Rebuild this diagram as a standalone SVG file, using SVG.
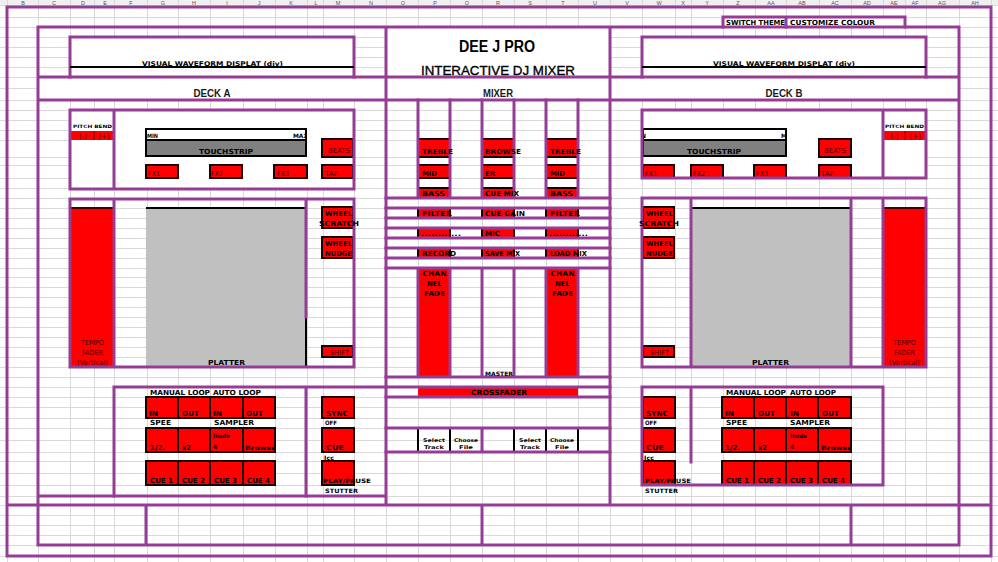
<svg xmlns="http://www.w3.org/2000/svg" width="998" height="562" viewBox="0 0 998 562">
<style>
.grid{fill:none;stroke:#d9d9d9;stroke-width:1}
.pl{fill:none;stroke:#963c96;stroke-width:3;stroke-linecap:square}
.rb{fill:#ff0000;stroke:#1a0000;stroke-width:2}
.rd{fill:#ff0000}
.bk{fill:none;stroke:#000;stroke-width:2}
.wh{fill:#fff}
.t{font-family:"DejaVu Sans",sans-serif;font-weight:bold;font-size:7px;fill:#000}
.m{font-family:"DejaVu Sans",sans-serif;font-size:7px;fill:#4a0000}
.s{font-size:5px}
.h{font-family:"Liberation Sans",Arial,sans-serif;font-weight:bold;font-size:11.5px;fill:#1a1a1a}
.col{font-family:"Liberation Sans",Arial,sans-serif;font-size:5.5px;fill:#555;text-anchor:middle}
</style>
<defs>
<clipPath id="cSw"><rect x="724" y="18" width="61" height="8"/></clipPath>
<clipPath id="cTa"><rect x="147" y="130" width="158" height="10"/></clipPath>
<clipPath id="cTb"><rect x="644" y="130" width="141" height="10"/></clipPath>
<clipPath id="cBa"><rect x="243" y="429" width="32" height="22"/></clipPath>
<clipPath id="cBb"><rect x="819" y="429" width="32" height="22"/></clipPath>
</defs>
<rect width="998" height="562" fill="#fff"/>
<g id="header">
<rect x="0" y="0" width="998" height="5" fill="#f0f0f0"/>
<g class="col">
<text x="23" y="5">B</text><text x="54" y="5">C</text><text x="83" y="5">D</text><text x="105" y="5">E</text><text x="131" y="5">F</text><text x="163" y="5">G</text><text x="194" y="5">H</text><text x="227" y="5">I</text><text x="259" y="5">J</text><text x="291" y="5">K</text><text x="316" y="5">L</text><text x="338" y="5">M</text><text x="371" y="5">N</text><text x="403" y="5">O</text><text x="435" y="5">P</text><text x="467" y="5">Q</text><text x="498" y="5">R</text><text x="530" y="5">S</text><text x="563" y="5">T</text><text x="595" y="5">U</text><text x="627" y="5">V</text><text x="659" y="5">W</text><text x="683" y="5">X</text><text x="707" y="5">Y</text><text x="738" y="5">Z</text><text x="771" y="5">AA</text><text x="802" y="5">AB</text><text x="835" y="5">AC</text><text x="867" y="5">AD</text><text x="894" y="5">AE</text><text x="915" y="5">AF</text><text x="942" y="5">AG</text><text x="975" y="5">AH</text>
</g>
</g>
<path class="grid" d="M7.5 0V562M38.5 0V562M70.5 0V562M94.5 0V562M114.5 0V562M147.5 0V562M178.5 0V562M210.5 0V562M243.5 0V562M275.5 0V562M307.5 0V562M323.5 0V562M354.5 0V562M386.5 0V562M418.5 0V562M450.5 0V562M482.5 0V562M514.5 0V562M546.5 0V562M578.5 0V562M610.5 0V562M642.5 0V562M675.5 0V562M691.5 0V562M723.5 0V562M755.5 0V562M786.5 0V562M819.5 0V562M851.5 0V562M883.5 0V562M905.5 0V562M926.5 0V562M959.5 0V562M991.5 0V562M0 5.5H998M0 17.5H998M0 27.5H998M0 37.5H998M0 47.5H998M0 57.5H998M0 67.5H998M0 77.5H998M0 88.5H998M0 100.5H998M0 110.5H998M0 120.5H998M0 130.5H998M0 140.5H998M0 157.5H998M0 165.5H998M0 178.5H998M0 188.5H998M0 198.5H998M0 208.5H998M0 218.5H998M0 228.5H998M0 238.5H998M0 248.5H998M0 258.5H998M0 268.5H998M0 277.5H998M0 287.5H998M0 297.5H998M0 307.5H998M0 317.5H998M0 327.5H998M0 337.5H998M0 347.5H998M0 357.5H998M0 367.5H998M0 377.5H998M0 387.5H998M0 397.5H998M0 407.5H998M0 418.5H998M0 428.5H998M0 440.5H998M0 452.5H998M0 461.5H998M0 473.5H998M0 485.5H998M0 496.5H998M0 505.5H998M0 515.5H998M0 525.5H998M0 535.5H998M0 545.5H998M0 556.5H998"/>
<g id="white-areas">
<rect class="wh" x="386" y="27" width="224" height="50"/>
<rect class="wh" x="70" y="37" width="284" height="40"/>
<rect class="wh" x="642" y="37" width="284" height="40"/>
<rect class="wh" x="38" y="77" width="921" height="23"/>
<rect class="wh" x="70" y="110" width="284" height="79"/>
<rect class="wh" x="642" y="110" width="284" height="68"/>
<rect class="wh" x="723" y="17" width="182" height="10"/>
</g>
<g id="deck-a">
<rect class="rd" x="71" y="131" width="23" height="9"/>
<rect class="rd" x="94" y="131" width="19" height="9"/>
<line x1="94" y1="131" x2="94" y2="140" stroke="#600" stroke-width="1"/>
<rect x="146" y="129" width="160" height="11" fill="#fff"/>
<rect x="146" y="140" width="160" height="16" fill="#808080"/>
<rect class="bk" x="146" y="129" width="160" height="27"/>
<line x1="146" y1="140" x2="306" y2="140" stroke="#000" stroke-width="2"/>
<rect class="rb" x="146" y="165" width="32" height="13"/>
<rect class="rb" x="210" y="165" width="32" height="13"/>
<rect class="rb" x="274" y="165" width="33" height="13"/>
<rect class="rb" x="322" y="165" width="31" height="13"/>
<rect class="rb" x="322" y="139" width="31" height="18"/>
<rect class="rd" x="71" y="208" width="42" height="158"/>
<line x1="71" y1="208" x2="113" y2="208" stroke="#400" stroke-width="2"/>
<rect x="146" y="208" width="160" height="158" fill="#c0c0c0"/>
<line x1="146" y1="208" x2="306" y2="208" stroke="#000" stroke-width="2"/>
<line x1="306" y1="317" x2="306" y2="366" stroke="#000" stroke-width="2"/>
<rect class="rb" x="322" y="207" width="31" height="21"/>
<rect class="rb" x="322" y="237" width="31" height="21"/>
<rect class="rb" x="322" y="346" width="31" height="11"/>
<rect class="rb" x="146" y="397" width="32" height="21"/><rect class="rb" x="178" y="397" width="32" height="21"/><rect class="rb" x="210" y="397" width="33" height="21"/><rect class="rb" x="243" y="397" width="32" height="21"/>
<rect class="rb" x="146" y="428" width="32" height="24"/><rect class="rb" x="178" y="428" width="32" height="24"/><rect class="rb" x="210" y="428" width="33" height="24"/><rect class="rb" x="243" y="428" width="32" height="24"/>
<rect class="rb" x="146" y="461" width="32" height="24"/><rect class="rb" x="178" y="461" width="32" height="24"/><rect class="rb" x="210" y="461" width="33" height="24"/><rect class="rb" x="243" y="461" width="32" height="24"/>
<rect class="rb" x="322" y="397" width="32" height="21"/>
<rect class="rb" x="322" y="428" width="32" height="24"/>
<rect class="rb" x="322" y="461" width="32" height="24"/>
<line x1="38" y1="497" x2="38" y2="504" stroke="#000" stroke-width="2"/>
<line x1="386" y1="497" x2="386" y2="504" stroke="#000" stroke-width="2"/>
</g>
<g id="mixer">
<rect class="rb" x="418" y="139" width="32" height="18"/><rect class="rb" x="418" y="165" width="32" height="13"/><rect class="rb" x="418" y="188" width="32" height="10"/>
<rect class="rb" x="482" y="139" width="32" height="18"/><rect class="rb" x="482" y="165" width="32" height="13"/><rect class="rb" x="482" y="188" width="32" height="10"/>
<rect class="rb" x="546" y="139" width="32" height="18"/><rect class="rb" x="546" y="165" width="32" height="13"/><rect class="rb" x="546" y="188" width="32" height="10"/>
<rect class="rb" x="418" y="208" width="32" height="10"/><rect class="rb" x="482" y="208" width="32" height="10"/><rect class="rb" x="546" y="208" width="32" height="10"/>
<rect class="rb" x="418" y="228" width="32" height="10"/><rect class="rb" x="482" y="228" width="32" height="10"/><rect class="rb" x="546" y="228" width="32" height="10"/>
<rect class="rb" x="418" y="248" width="32" height="10"/><rect class="rb" x="482" y="248" width="32" height="10"/><rect class="rb" x="546" y="248" width="32" height="10"/>
<rect class="rd" x="418" y="268" width="32" height="109"/>
<rect class="rd" x="546" y="268" width="32" height="109"/>
<rect class="rd" x="418" y="387" width="160" height="10"/>
<path d="M418 428V452M450 428V452M514 428V452M546 428V452M578 428V452" stroke="#000" stroke-width="2" fill="none"/>
</g>
<g id="deck-b">
<rect class="rd" x="884" y="131" width="21" height="9"/>
<rect class="rd" x="905" y="131" width="21" height="9"/>
<line x1="905" y1="131" x2="905" y2="140" stroke="#600" stroke-width="1"/>
<rect x="643" y="129" width="143" height="11" fill="#fff"/>
<rect x="643" y="140" width="143" height="16" fill="#808080"/>
<rect class="bk" x="643" y="129" width="143" height="27"/>
<line x1="643" y1="140" x2="786" y2="140" stroke="#000" stroke-width="2"/>
<rect class="rb" x="643" y="165" width="31" height="13"/>
<rect class="rb" x="691" y="165" width="32" height="13"/>
<rect class="rb" x="754" y="165" width="32" height="13"/>
<rect class="rb" x="819" y="165" width="32" height="13"/>
<rect class="rb" x="819" y="139" width="32" height="18"/>
<rect class="rd" x="884" y="208" width="42" height="158"/>
<line x1="884" y1="208" x2="926" y2="208" stroke="#400" stroke-width="2"/>
<rect x="692" y="208" width="158" height="158" fill="#c0c0c0"/>
<line x1="692" y1="208" x2="850" y2="208" stroke="#000" stroke-width="2"/>
<rect class="rb" x="643" y="207" width="31" height="21"/>
<rect class="rb" x="643" y="237" width="31" height="21"/>
<rect class="rb" x="643" y="346" width="31" height="11"/>
<rect class="rb" x="722" y="397" width="32" height="21"/><rect class="rb" x="754" y="397" width="32" height="21"/><rect class="rb" x="786" y="397" width="32" height="21"/><rect class="rb" x="818" y="397" width="33" height="21"/>
<rect class="rb" x="722" y="428" width="32" height="24"/><rect class="rb" x="754" y="428" width="32" height="24"/><rect class="rb" x="786" y="428" width="32" height="24"/><rect class="rb" x="818" y="428" width="33" height="24"/>
<rect class="rb" x="722" y="461" width="32" height="24"/><rect class="rb" x="754" y="461" width="32" height="24"/><rect class="rb" x="786" y="461" width="32" height="24"/><rect class="rb" x="818" y="461" width="33" height="24"/>
<rect class="rb" x="643" y="397" width="32" height="21"/>
<rect class="rb" x="643" y="428" width="32" height="24"/>
<rect class="rb" x="643" y="461" width="32" height="24"/>
</g>
<g id="frame">
<path class="pl" d="M7 7H991V556H7ZM38 27H959V545H38ZM386 27V505M610 27V505M38 77H959M38 100H959M7 505H991M146 505V545M482 505V545M851 505V545M38 496H386"/>
<path class="pl" d="M70 37H354V77M70 37V77M642 37H926V77M642 37V77M723 17H905V27M723 17V27M786 17V27"/>
<path class="pl" d="M70 110H354V189H70ZM114 110V189M70 199H354V367H70ZM114 199V367M306 199V317M114 387H386M114 387V496M306 387V496"/>
<path class="pl" d="M418 100V198M450 100V198M482 100V198M514 100V198M546 100V198M578 100V198M386 198H610M386 208H610M386 218H610M386 228H610M386 238H610M386 248H610M386 258H610M386 268H610M418 268V377M450 268V377M482 268V377M514 268V377M546 268V377M578 268V377M386 377H610M386 387H610M386 397H610M386 428H610M386 452H610M482 428V452"/>
<path class="pl" d="M642 110H926V178H642ZM883 110V178M642 198H926V367H642ZM691 198V367M851 198V367M883 198V367M642 387H883V485H642ZM691 387V462"/>
<line x1="70" y1="67" x2="354" y2="67" stroke="#000" stroke-width="2"/>
<line x1="642" y1="67" x2="926" y2="67" stroke="#000" stroke-width="2"/>
</g>
<g id="labels-top">
<text class="t" x="726" y="25" textLength="59" lengthAdjust="spacingAndGlyphs" clip-path="url(#cSw)">SWITCH THEME</text>
<text class="t" x="790" y="25" textLength="85" lengthAdjust="spacingAndGlyphs">CUSTOMIZE COLOUR</text>
<text x="497" y="52" text-anchor="middle" textLength="76" lengthAdjust="spacingAndGlyphs" style="font-family:'Liberation Sans',Arial,sans-serif;font-weight:bold;font-size:16px;fill:#000">DEE J PRO</text>
<text x="498" y="75" text-anchor="middle" textLength="154" lengthAdjust="spacingAndGlyphs" style="font-family:'Liberation Sans',Arial,sans-serif;font-size:13px;fill:#000;stroke:#000;stroke-width:0.35">INTERACTIVE DJ MIXER</text>
<text class="h" x="212" y="96.5" text-anchor="middle" textLength="37" lengthAdjust="spacingAndGlyphs">DECK A</text>
<text class="h" x="498" y="96.5" text-anchor="middle" textLength="30" lengthAdjust="spacingAndGlyphs">MIXER</text>
<text class="h" x="784" y="96.5" text-anchor="middle" textLength="37" lengthAdjust="spacingAndGlyphs">DECK B</text>
<text class="t" x="142" y="65.5" textLength="141" lengthAdjust="spacingAndGlyphs" style="font-size:6.5px">VISUAL WAVEFORM DISPLAT (div)</text>
<text class="t" x="713" y="65.5" textLength="142" lengthAdjust="spacingAndGlyphs" style="font-size:6.5px">VISUAL WAVEFORM DISPLAT (div)</text>
</g>
<g id="labels-deck-a">
<text class="t" x="73" y="128" textLength="39" lengthAdjust="spacingAndGlyphs" style="font-size:4.5px">PITCH BEND</text>
<text class="m" x="83" y="138.5" text-anchor="middle">(-)</text>
<text class="m" x="104" y="138.5" text-anchor="middle">(+)</text>
<text class="t" x="147" y="137.5" textLength="11" lengthAdjust="spacingAndGlyphs" style="font-size:6px" clip-path="url(#cTa)">MIN</text>
<text class="t" x="293" y="137.5" textLength="15" lengthAdjust="spacingAndGlyphs" style="font-size:6px" clip-path="url(#cTa)">MAX</text>
<text class="t" x="199" y="154" textLength="54" lengthAdjust="spacingAndGlyphs">TOUCHSTRIP</text>
<text class="m" x="148" y="176" textLength="12" lengthAdjust="spacingAndGlyphs">FX1</text>
<text class="m" x="211" y="176" textLength="12" lengthAdjust="spacingAndGlyphs">FX2</text>
<text class="m" x="277" y="176" textLength="12" lengthAdjust="spacingAndGlyphs">FX3</text>
<text class="m" x="325" y="176" textLength="13" lengthAdjust="spacingAndGlyphs">TAP</text>
<text class="m" x="328" y="153" textLength="22" lengthAdjust="spacingAndGlyphs">BEATS</text>
<text class="t" x="325" y="215.5" textLength="27" lengthAdjust="spacingAndGlyphs">WHEEL</text>
<text class="t" x="319" y="225.5" textLength="40" lengthAdjust="spacingAndGlyphs">SCRATCH</text>
<text class="t" x="325" y="245.5" textLength="27" lengthAdjust="spacingAndGlyphs">WHEEL</text>
<text class="t" x="325" y="255.5" textLength="27" lengthAdjust="spacingAndGlyphs">NUDGE</text>
<text class="m" x="330" y="354.5" textLength="19" lengthAdjust="spacingAndGlyphs">SHIFT</text>
<text class="m" x="92.5" y="344.5" text-anchor="middle" textLength="23" lengthAdjust="spacingAndGlyphs">TEMPO</text>
<text class="m" x="92.5" y="354.5" text-anchor="middle" textLength="21" lengthAdjust="spacingAndGlyphs">FADER</text>
<text class="m" x="92.5" y="364.5" text-anchor="middle" textLength="31" lengthAdjust="spacingAndGlyphs">(Vertical)</text>
<text class="t" x="208" y="364.5" textLength="37" lengthAdjust="spacingAndGlyphs">PLATTER</text>
<text class="t" x="150" y="394.5" textLength="60" lengthAdjust="spacingAndGlyphs">MANUAL LOOP</text>
<text class="t" x="213" y="394.5" textLength="48" lengthAdjust="spacingAndGlyphs">AUTO LOOP</text>
<text class="t" x="149" y="415.5" textLength="9" lengthAdjust="spacingAndGlyphs">IN</text>
<text class="t" x="182" y="415.5" textLength="17" lengthAdjust="spacingAndGlyphs">OUT</text>
<text class="t" x="213" y="415.5" textLength="9" lengthAdjust="spacingAndGlyphs">IN</text>
<text class="t" x="246" y="415.5" textLength="17" lengthAdjust="spacingAndGlyphs">OUT</text>
<text class="t" x="150" y="424.5" textLength="21" lengthAdjust="spacingAndGlyphs">SPEE</text>
<text class="t" x="214" y="424.5" textLength="40" lengthAdjust="spacingAndGlyphs">SAMPLER</text>
<text class="t" x="150" y="449.5" textLength="15" lengthAdjust="spacingAndGlyphs">1/2.</text>
<text class="t" x="182" y="449.5" textLength="9" lengthAdjust="spacingAndGlyphs">x2</text>
<text class="t" x="213" y="438" textLength="17" lengthAdjust="spacingAndGlyphs" style="font-size:6px">Inode</text>
<text class="t" x="213" y="449" style="font-size:6px">4</text>
<text class="t" x="245" y="449.5" textLength="31" lengthAdjust="spacingAndGlyphs" style="font-size:6px" clip-path="url(#cBa)">Browse</text>
<text class="t" x="150" y="483" textLength="23" lengthAdjust="spacingAndGlyphs">CUE 1</text>
<text class="t" x="182" y="483" textLength="23" lengthAdjust="spacingAndGlyphs">CUE 2</text>
<text class="t" x="214" y="483" textLength="23" lengthAdjust="spacingAndGlyphs">CUE 3</text>
<text class="t" x="247" y="483" textLength="23" lengthAdjust="spacingAndGlyphs">CUE 4</text>
<text class="t" x="326" y="416" textLength="22" lengthAdjust="spacingAndGlyphs">SYNC</text>
<text class="t" x="325" y="424.5" textLength="12" lengthAdjust="spacingAndGlyphs" style="font-size:6px">OFF</text>
<text class="t" x="326" y="450" textLength="18" lengthAdjust="spacingAndGlyphs">CUE</text>
<text class="t" x="324" y="459.5" textLength="10" lengthAdjust="spacingAndGlyphs" style="font-size:6px">Icc</text>
<text class="t" x="323" y="483" textLength="48" lengthAdjust="spacingAndGlyphs" style="font-size:6px">PLAY/PAUSE</text>
<text class="t" x="325" y="493" textLength="33" lengthAdjust="spacingAndGlyphs" style="font-size:6px">STUTTER</text>
</g>
<g id="labels-mixer">
<text class="t" x="422" y="154" textLength="31" lengthAdjust="spacingAndGlyphs">TREBLE</text>
<text class="t" x="422" y="175.5" textLength="15" lengthAdjust="spacingAndGlyphs">MID</text>
<text class="t" x="422" y="195.5" textLength="23" lengthAdjust="spacingAndGlyphs">BASS</text>
<text class="t" x="485" y="154" textLength="36" lengthAdjust="spacingAndGlyphs">BROWSE</text>
<text class="t" x="485" y="175.5" textLength="10" lengthAdjust="spacingAndGlyphs">ER</text>
<text class="t" x="485" y="195.5" textLength="34" lengthAdjust="spacingAndGlyphs">CUE MIX</text>
<text class="t" x="550" y="154" textLength="31" lengthAdjust="spacingAndGlyphs">TREBLE</text>
<text class="t" x="550" y="175.5" textLength="15" lengthAdjust="spacingAndGlyphs">MID</text>
<text class="t" x="550" y="195.5" textLength="23" lengthAdjust="spacingAndGlyphs">BASS</text>
<text class="t" x="422" y="215.5" textLength="30" lengthAdjust="spacingAndGlyphs">FILTER</text>
<text class="t" x="485" y="215.5" textLength="40" lengthAdjust="spacingAndGlyphs">CUE GAIN</text>
<text class="t" x="550" y="215.5" textLength="30" lengthAdjust="spacingAndGlyphs">FILTER</text>
<text class="t" x="421" y="235.5" textLength="40" lengthAdjust="spacingAndGlyphs">............</text>
<text class="t" x="485" y="235.5" textLength="15" lengthAdjust="spacingAndGlyphs">MIC</text>
<text class="t" x="549" y="235.5" textLength="39" lengthAdjust="spacingAndGlyphs">............</text>
<text class="t" x="422" y="255.5" textLength="34" lengthAdjust="spacingAndGlyphs">RECORD</text>
<text class="t" x="485" y="255.5" textLength="35" lengthAdjust="spacingAndGlyphs">SAVE MIX</text>
<text class="t" x="550" y="255.5" textLength="37" lengthAdjust="spacingAndGlyphs">LOAD MIX</text>
<text class="t" x="434.5" y="275.5" text-anchor="middle" textLength="24" lengthAdjust="spacingAndGlyphs">CHAN</text>
<text class="t" x="434.5" y="285.5" text-anchor="middle" textLength="15" lengthAdjust="spacingAndGlyphs">NEL</text>
<text class="t" x="434.5" y="295.5" text-anchor="middle" textLength="21" lengthAdjust="spacingAndGlyphs">FADE</text>
<text class="t" x="562.5" y="275.5" text-anchor="middle" textLength="24" lengthAdjust="spacingAndGlyphs">CHAN</text>
<text class="t" x="562.5" y="285.5" text-anchor="middle" textLength="15" lengthAdjust="spacingAndGlyphs">NEL</text>
<text class="t" x="562.5" y="295.5" text-anchor="middle" textLength="21" lengthAdjust="spacingAndGlyphs">FADE</text>
<text class="t" x="485" y="375.5" textLength="28" lengthAdjust="spacingAndGlyphs" style="font-size:6px">MASTER</text>
<text class="t" x="471" y="394.5" textLength="56" lengthAdjust="spacingAndGlyphs">CROSSFADER</text>
<text class="t s" x="434" y="441.5" text-anchor="middle" textLength="22" lengthAdjust="spacingAndGlyphs">Select</text>
<text class="t s" x="434" y="448.5" text-anchor="middle" textLength="20" lengthAdjust="spacingAndGlyphs">Track</text>
<text class="t s" x="466" y="441.5" text-anchor="middle" textLength="24" lengthAdjust="spacingAndGlyphs">Choose</text>
<text class="t s" x="466" y="448.5" text-anchor="middle" textLength="14" lengthAdjust="spacingAndGlyphs">File</text>
<text class="t s" x="530" y="441.5" text-anchor="middle" textLength="22" lengthAdjust="spacingAndGlyphs">Select</text>
<text class="t s" x="530" y="448.5" text-anchor="middle" textLength="20" lengthAdjust="spacingAndGlyphs">Track</text>
<text class="t s" x="562" y="441.5" text-anchor="middle" textLength="24" lengthAdjust="spacingAndGlyphs">Choose</text>
<text class="t s" x="562" y="448.5" text-anchor="middle" textLength="14" lengthAdjust="spacingAndGlyphs">File</text>
</g>
<g id="labels-deck-b">
<text class="t" x="885" y="128" textLength="39" lengthAdjust="spacingAndGlyphs" style="font-size:4.5px">PITCH BEND</text>
<text class="m" x="894.5" y="138.5" text-anchor="middle">(-)</text>
<text class="m" x="915.5" y="138.5" text-anchor="middle">(+)</text>
<text class="t" x="632" y="137.5" textLength="14" lengthAdjust="spacingAndGlyphs" style="font-size:6px" clip-path="url(#cTb)">MIN</text>
<text class="t" x="781" y="137.5" textLength="15" lengthAdjust="spacingAndGlyphs" style="font-size:6px" clip-path="url(#cTb)">MAX</text>
<text class="t" x="687" y="154" textLength="54" lengthAdjust="spacingAndGlyphs">TOUCHSTRIP</text>
<text class="m" x="645" y="176" textLength="12" lengthAdjust="spacingAndGlyphs">FX1</text>
<text class="m" x="693" y="176" textLength="12" lengthAdjust="spacingAndGlyphs">FX2</text>
<text class="m" x="756" y="176" textLength="12" lengthAdjust="spacingAndGlyphs">FX3</text>
<text class="m" x="821" y="176" textLength="13" lengthAdjust="spacingAndGlyphs">TAP</text>
<text class="m" x="824" y="153" textLength="22" lengthAdjust="spacingAndGlyphs">BEATS</text>
<text class="t" x="646" y="215.5" textLength="27" lengthAdjust="spacingAndGlyphs">WHEEL</text>
<text class="t" x="639" y="225.5" textLength="40" lengthAdjust="spacingAndGlyphs">SCRATCH</text>
<text class="t" x="646" y="245.5" textLength="27" lengthAdjust="spacingAndGlyphs">WHEEL</text>
<text class="t" x="646" y="255.5" textLength="27" lengthAdjust="spacingAndGlyphs">NUDGE</text>
<text class="m" x="650" y="354.5" textLength="19" lengthAdjust="spacingAndGlyphs">SHIFT</text>
<text class="m" x="904.5" y="344.5" text-anchor="middle" textLength="23" lengthAdjust="spacingAndGlyphs">TEMPO</text>
<text class="m" x="904.5" y="354.5" text-anchor="middle" textLength="21" lengthAdjust="spacingAndGlyphs">FADER</text>
<text class="m" x="904.5" y="364.5" text-anchor="middle" textLength="31" lengthAdjust="spacingAndGlyphs">(Vertical)</text>
<text class="t" x="752" y="364.5" textLength="37" lengthAdjust="spacingAndGlyphs">PLATTER</text>
<text class="t" x="726" y="394.5" textLength="60" lengthAdjust="spacingAndGlyphs">MANUAL LOOP</text>
<text class="t" x="790" y="394.5" textLength="46" lengthAdjust="spacingAndGlyphs">AUTO LOOP</text>
<text class="t" x="725" y="415.5" textLength="9" lengthAdjust="spacingAndGlyphs">IN</text>
<text class="t" x="758" y="415.5" textLength="17" lengthAdjust="spacingAndGlyphs">OUT</text>
<text class="t" x="790" y="415.5" textLength="9" lengthAdjust="spacingAndGlyphs">IN</text>
<text class="t" x="822" y="415.5" textLength="17" lengthAdjust="spacingAndGlyphs">OUT</text>
<text class="t" x="726" y="424.5" textLength="21" lengthAdjust="spacingAndGlyphs">SPEE</text>
<text class="t" x="790" y="424.5" textLength="40" lengthAdjust="spacingAndGlyphs">SAMPLER</text>
<text class="t" x="725" y="449.5" textLength="15" lengthAdjust="spacingAndGlyphs">1/2.</text>
<text class="t" x="758" y="449.5" textLength="9" lengthAdjust="spacingAndGlyphs">x2</text>
<text class="t" x="790" y="438" textLength="17" lengthAdjust="spacingAndGlyphs" style="font-size:6px">Inode</text>
<text class="t" x="790" y="449" style="font-size:6px">4</text>
<text class="t" x="821" y="449.5" textLength="31" lengthAdjust="spacingAndGlyphs" style="font-size:6px" clip-path="url(#cBb)">Browse</text>
<text class="t" x="726" y="483" textLength="23" lengthAdjust="spacingAndGlyphs">CUE 1</text>
<text class="t" x="758" y="483" textLength="23" lengthAdjust="spacingAndGlyphs">CUE 2</text>
<text class="t" x="790" y="483" textLength="23" lengthAdjust="spacingAndGlyphs">CUE 3</text>
<text class="t" x="822" y="483" textLength="23" lengthAdjust="spacingAndGlyphs">CUE 4</text>
<text class="t" x="646" y="416" textLength="22" lengthAdjust="spacingAndGlyphs">SYNC</text>
<text class="t" x="645" y="424.5" textLength="12" lengthAdjust="spacingAndGlyphs" style="font-size:6px">OFF</text>
<text class="t" x="646" y="450" textLength="18" lengthAdjust="spacingAndGlyphs">CUE</text>
<text class="t" x="644" y="459.5" textLength="10" lengthAdjust="spacingAndGlyphs" style="font-size:6px">Icc</text>
<text class="t" x="645" y="483" textLength="46" lengthAdjust="spacingAndGlyphs" style="font-size:6px">PLAY/PAUSE</text>
<text class="t" x="645" y="493" textLength="33" lengthAdjust="spacingAndGlyphs" style="font-size:6px">STUTTER</text>
</g>
<g id="connectors"></g>
</svg>
